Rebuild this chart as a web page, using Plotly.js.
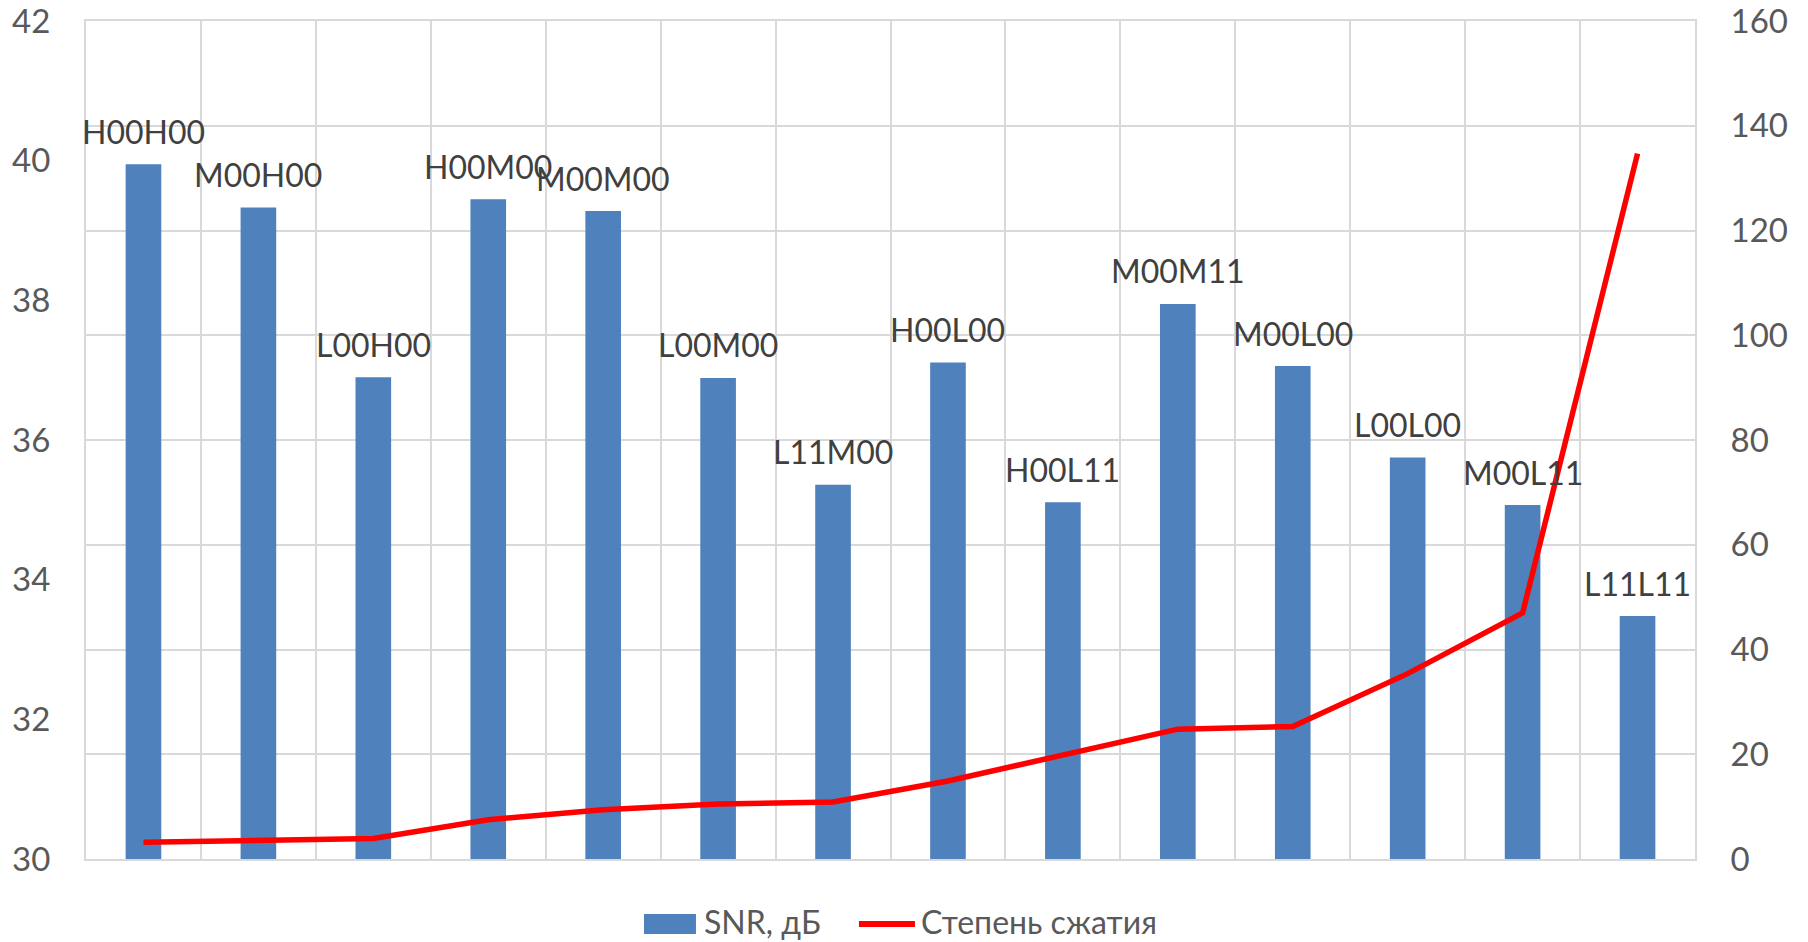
<!DOCTYPE html>
<html>
<head>
<meta charset="utf-8">
<script src="https://cdn.plot.ly/plotly-3.0.1.min.js"></script>
<style>
  html, body { margin: 0; padding: 0; background: #ffffff; }
  #chart { width: 1808px; height: 942px; }
</style>
</head>
<body>
<div id="chart"></div>
<script>
// Coding schemes (categories)
const categories = ['H00H00', 'M00H00', 'L00H00', 'H00M00', 'M00M00', 'L00M00', 'L11M00',
                    'H00L00', 'H00L11', 'M00M11', 'M00L00', 'L00L00', 'M00L11', 'L11L11'];
// SNR, dB (left axis)
const snrValues = [39.95, 39.33, 36.90, 39.45, 39.28, 36.89, 35.36,
                   37.11, 35.11, 37.95, 37.06, 35.75, 35.07, 33.48];
// Compression ratio (right axis)
const compressionValues = [3.2, 3.5, 3.9, 7.5, 9.4, 10.5, 10.9,
                           14.9, 19.8, 24.8, 25.3, 35.4, 47.0, 134.7];
// Axis ticks
const leftTicks = [30, 32, 34, 36, 38, 40, 42];
const rightTicks = [0, 20, 40, 60, 80, 100, 120, 140, 160];
// Series names
const snrName = 'SNR, дБ';
const compressionName = 'Степень сжатия';

const FONT = 'Lato, "Noto Sans", sans-serif';
const BLUE = '#4f81bd';
const RED = '#ff0000';
const GRID = '#d9d9d9';

const traces = [
  {
    type: 'bar',
    name: snrName,
    x: categories,
    y: snrValues,
    yaxis: 'y',
    marker: { color: BLUE },
    hoverinfo: 'x+y'
  },
  {
    type: 'scatter',
    mode: 'lines',
    name: compressionName,
    x: categories,
    y: compressionValues,
    yaxis: 'y2',
    line: { color: RED, width: 5.5 },
    hoverinfo: 'x+y'
  }
];

// Category name above each bar
const labelAnnotations = categories.map((c, i) => ({
  x: c, y: snrValues[i], xref: 'x', yref: 'y',
  text: c, showarrow: false,
  xanchor: 'center', yanchor: 'middle', yshift: 33,
  font: { family: FONT, size: 32, color: '#404040' }
}));

// Legend drawn below the plot area
const legendAnnotations = [
  { x: 0.3828, y: -0.074, xref: 'paper', yref: 'paper', text: snrName, showarrow: false,
    xanchor: 'left', yanchor: 'middle', font: { family: FONT, size: 32, color: '#595959' } },
  { x: 0.5177, y: -0.074, xref: 'paper', yref: 'paper', text: compressionName, showarrow: false,
    xanchor: 'left', yanchor: 'middle', font: { family: FONT, size: 32, color: '#595959' } }
];
const legendShapes = [
  { type: 'rect', xref: 'paper', yref: 'paper', x0: 0.3468, x1: 0.3791, y0: -0.0895, y1: -0.0656,
    fillcolor: BLUE, line: { width: 0 } },
  { type: 'line', xref: 'paper', yref: 'paper', x0: 0.4804, x1: 0.5152, y0: -0.0776, y1: -0.0776,
    line: { color: RED, width: 6 } }
];

const layout = {
  width: 1808,
  height: 942,
  margin: { l: 86, r: 113, t: 21, b: 83 },
  paper_bgcolor: '#ffffff',
  plot_bgcolor: 'rgba(0,0,0,0)',
  showlegend: false,
  bargap: 0.69,
  font: { family: FONT, color: '#595959' },
  xaxis: {
    type: 'category',
    tickson: 'boundaries',
    showgrid: true,
    gridcolor: GRID,
    gridwidth: 2,
    showticklabels: false,
    ticks: '',
    showline: true,
    linecolor: GRID,
    linewidth: 2,
    mirror: true,
    zeroline: false,
    range: [-0.5, categories.length - 0.5]
  },
  yaxis: {
    range: [30, 42.002],
    tickvals: leftTicks,
    ticktext: leftTicks.map(String),
    showgrid: false,
    zeroline: false,
    showline: true,
    linecolor: GRID,
    linewidth: 2,
    ticks: '',
    ticklabelstandoff: 27,
    ticklabeloverflow: 'allow',
    tickfont: { family: FONT, size: 33, color: '#595959' }
  },
  yaxis2: {
    range: [0, 160.03],
    tickvals: rightTicks,
    ticktext: rightTicks.map(String),
    overlaying: 'y',
    side: 'right',
    showgrid: true,
    gridcolor: GRID,
    gridwidth: 2,
    zeroline: false,
    showline: true,
    linecolor: GRID,
    linewidth: 2,
    ticks: '',
    ticklabelstandoff: 27,
    ticklabeloverflow: 'allow',
    tickfont: { family: FONT, size: 33, color: '#595959' }
  },
  annotations: labelAnnotations.concat(legendAnnotations),
  shapes: legendShapes
};

Plotly.newPlot('chart', traces, layout, { displayModeBar: false, staticPlot: true });
</script>
</body>
</html>
